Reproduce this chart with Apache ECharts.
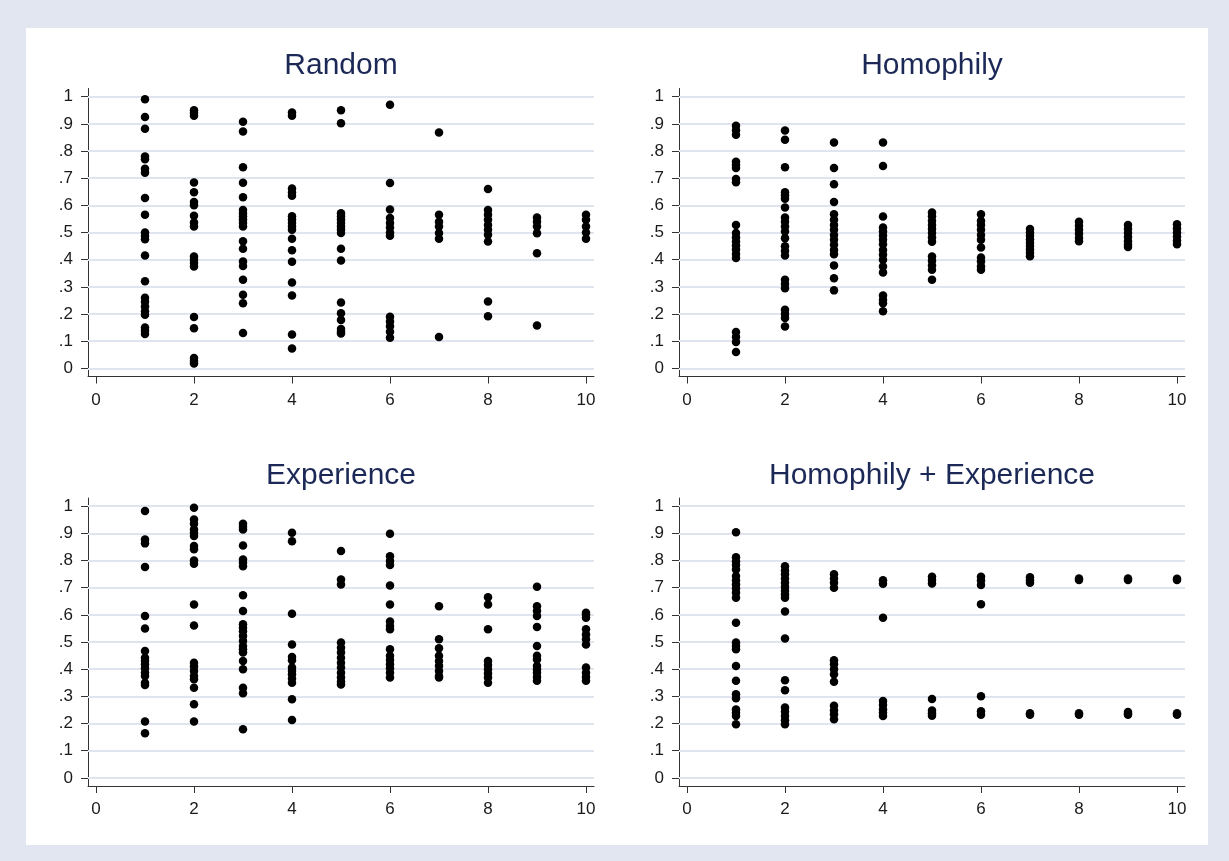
<!DOCTYPE html>
<html>
<head>
<meta charset="utf-8">
<title>Random / Homophily / Experience</title>
<script src="https://cdn.jsdelivr.net/npm/echarts@6/dist/echarts.min.js"></script>
<style>
  html, body { margin: 0; padding: 0; background: #e1e6f0; }
  #chart { width: 1229px; height: 861px; }
</style>
</head>
<body>
<div id="chart"></div>
<script>
// panel titles, in reading order
var panelTitles = ['Random', 'Homophily', 'Experience', 'Homophily + Experience'];

// axis ticks
var xTicks = [0, 2, 4, 6, 8, 10];
var yTicks = [0, 0.1, 0.2, 0.3, 0.4, 0.5, 0.6, 0.7, 0.8, 0.9, 1];
var yTickLabels = ['0', '.1', '.2', '.3', '.4', '.5', '.6', '.7', '.8', '.9', '1'];

// values, one list per x = 1..10
var randomVals = [
  [0.99, 0.925, 0.882, 0.78, 0.77, 0.735, 0.72, 0.627, 0.565, 0.5, 0.487, 0.475, 0.415, 0.321, 0.26, 0.245, 0.228, 0.21, 0.197, 0.15, 0.138, 0.126],
  [0.95, 0.94, 0.93, 0.684, 0.648, 0.612, 0.6, 0.562, 0.537, 0.522, 0.412, 0.4, 0.388, 0.375, 0.189, 0.148, 0.038, 0.027, 0.018],
  [0.908, 0.872, 0.74, 0.683, 0.63, 0.583, 0.571, 0.56, 0.548, 0.535, 0.522, 0.468, 0.44, 0.393, 0.377, 0.326, 0.271, 0.24, 0.13],
  [0.942, 0.93, 0.662, 0.647, 0.635, 0.56, 0.548, 0.535, 0.522, 0.51, 0.477, 0.435, 0.392, 0.316, 0.268, 0.125, 0.073],
  [0.95, 0.902, 0.571, 0.56, 0.548, 0.535, 0.522, 0.51, 0.498, 0.44, 0.397, 0.242, 0.203, 0.178, 0.145, 0.135, 0.128],
  [0.97, 0.682, 0.585, 0.553, 0.535, 0.518, 0.5, 0.488, 0.19, 0.172, 0.155, 0.135, 0.113],
  [0.868, 0.565, 0.54, 0.522, 0.498, 0.477, 0.115],
  [0.66, 0.583, 0.565, 0.547, 0.528, 0.51, 0.492, 0.467, 0.246, 0.192],
  [0.555, 0.54, 0.522, 0.497, 0.424, 0.158],
  [0.565, 0.547, 0.522, 0.5, 0.477]
];

var homophilyVals = [
  [0.893, 0.876, 0.86, 0.76, 0.748, 0.737, 0.697, 0.685, 0.528, 0.498, 0.482, 0.467, 0.452, 0.437, 0.421, 0.406, 0.134, 0.115, 0.097, 0.06],
  [0.875, 0.841, 0.74, 0.648, 0.636, 0.624, 0.592, 0.555, 0.54, 0.522, 0.504, 0.479, 0.449, 0.432, 0.415, 0.326, 0.31, 0.295, 0.216, 0.2, 0.185, 0.154],
  [0.831, 0.737, 0.678, 0.612, 0.567, 0.547, 0.528, 0.51, 0.491, 0.473, 0.455, 0.436, 0.42, 0.379, 0.332, 0.287],
  [0.831, 0.745, 0.559, 0.518, 0.504, 0.489, 0.473, 0.457, 0.436, 0.418, 0.4, 0.375, 0.353, 0.268, 0.252, 0.24, 0.21],
  [0.574, 0.56, 0.543, 0.528, 0.513, 0.498, 0.482, 0.466, 0.412, 0.396, 0.379, 0.363, 0.326],
  [0.567, 0.543, 0.528, 0.51, 0.491, 0.473, 0.445, 0.408, 0.393, 0.375, 0.363],
  [0.513, 0.5, 0.488, 0.475, 0.462, 0.45, 0.437, 0.425, 0.413],
  [0.54, 0.525, 0.51, 0.495, 0.48, 0.468],
  [0.528, 0.513, 0.498, 0.483, 0.468, 0.455, 0.447],
  [0.53, 0.515, 0.5, 0.485, 0.47, 0.457]
];

var experienceVals = [
  [0.982, 0.877, 0.863, 0.776, 0.596, 0.55, 0.467, 0.442, 0.43, 0.418, 0.403, 0.388, 0.375, 0.35, 0.342, 0.207, 0.164],
  [0.994, 0.951, 0.935, 0.914, 0.902, 0.89, 0.853, 0.841, 0.8, 0.788, 0.638, 0.561, 0.424, 0.41, 0.393, 0.375, 0.363, 0.332, 0.271, 0.207],
  [0.935, 0.924, 0.914, 0.855, 0.804, 0.792, 0.779, 0.672, 0.614, 0.565, 0.552, 0.54, 0.522, 0.504, 0.485, 0.473, 0.461, 0.43, 0.4, 0.332, 0.311, 0.179],
  [0.902, 0.871, 0.604, 0.491, 0.445, 0.433, 0.406, 0.393, 0.381, 0.366, 0.35, 0.289, 0.213],
  [0.835, 0.73, 0.712, 0.498, 0.479, 0.461, 0.442, 0.424, 0.406, 0.387, 0.369, 0.354, 0.344],
  [0.898, 0.816, 0.798, 0.783, 0.708, 0.638, 0.575, 0.559, 0.547, 0.473, 0.449, 0.434, 0.418, 0.403, 0.387, 0.369],
  [0.632, 0.51, 0.477, 0.449, 0.43, 0.412, 0.393, 0.375, 0.369],
  [0.665, 0.638, 0.547, 0.43, 0.415, 0.4, 0.384, 0.369, 0.35],
  [0.703, 0.632, 0.614, 0.596, 0.555, 0.485, 0.449, 0.436, 0.412, 0.4, 0.387, 0.371, 0.357],
  [0.608, 0.6, 0.589, 0.547, 0.528, 0.51, 0.491, 0.406, 0.387, 0.371, 0.357]
];

var homExpVals = [
  [0.904, 0.812, 0.797, 0.783, 0.767, 0.743, 0.727, 0.712, 0.697, 0.681, 0.663, 0.571, 0.498, 0.485, 0.473, 0.412, 0.357, 0.308, 0.293, 0.252, 0.24, 0.228, 0.197],
  [0.779, 0.763, 0.749, 0.734, 0.718, 0.702, 0.688, 0.675, 0.663, 0.612, 0.513, 0.359, 0.322, 0.259, 0.244, 0.228, 0.212, 0.197],
  [0.749, 0.734, 0.718, 0.7, 0.433, 0.418, 0.4, 0.381, 0.354, 0.265, 0.249, 0.234, 0.216],
  [0.727, 0.714, 0.589, 0.283, 0.268, 0.252, 0.24, 0.228],
  [0.74, 0.728, 0.715, 0.29, 0.248, 0.238, 0.229],
  [0.74, 0.726, 0.71, 0.639, 0.3, 0.245, 0.232],
  [0.738, 0.727, 0.718, 0.238, 0.232],
  [0.734, 0.728, 0.238, 0.232],
  [0.734, 0.728, 0.242, 0.236, 0.232],
  [0.733, 0.728, 0.238, 0.232]
];

var panelVals = [randomVals, homophilyVals, experienceVals, homExpVals];

// layout of the four plot regions (px)
var gridPos = [
  {left: 88, top: 88.5},
  {left: 679, top: 88.5},
  {left: 88, top: 498},
  {left: 679, top: 498}
];
var titleTop = [51, 51, 460.5, 460.5];
var gridW = 506, gridH = 288;

var font = 'Arial, "Liberation Sans", Helvetica, sans-serif';
var axisColor = '#333';
var gridColor = '#dfe4ee';

function toPoints(cols) {
  var pts = [];
  cols.forEach(function (vals, i) {
    vals.forEach(function (v) { pts.push([i + 1, v]); });
  });
  return pts;
}

function yLabel(v) {
  return yTickLabels[Math.round(v * 10)];
}

var grids = [], xAxes = [], yAxes = [], series = [], titles = [];

gridPos.forEach(function (g, k) {
  grids.push({left: g.left, top: g.top, width: gridW, height: gridH});

  titles.push({
    text: panelTitles[k],
    left: g.left + gridW / 2,
    top: titleTop[k],
    textAlign: 'center',
    padding: 0,
    textStyle: {
      fontFamily: font, fontSize: 30, fontWeight: 'normal',
      color: '#1c2957', lineHeight: 30
    }
  });

  xAxes.push({
    type: 'value', gridIndex: k,
    min: -8 / 49, max: 10 + 8 / 49,
    axisLine: {show: true, onZero: false, lineStyle: {color: axisColor, width: 1}},
    axisTick: {show: true, customValues: xTicks, length: 7, lineStyle: {color: axisColor}},
    axisLabel: {
      customValues: xTicks, margin: 15,
      fontFamily: font, fontSize: 17, color: '#1a1a1a'
    },
    splitLine: {show: false}
  });

  yAxes.push({
    type: 'value', gridIndex: k,
    min: -0.03, max: 1.03,
    axisLine: {show: true, onZero: false, lineStyle: {color: axisColor, width: 1}},
    axisTick: {show: true, customValues: yTicks, length: 7, lineStyle: {color: axisColor}},
    axisLabel: {
      customValues: yTicks, margin: 15,
      fontFamily: font, fontSize: 17, color: '#1a1a1a',
      formatter: yLabel
    },
    splitLine: {show: false}
  });

  series.push({
    type: 'scatter',
    xAxisIndex: k, yAxisIndex: k,
    symbol: 'circle', symbolSize: 8.5,
    itemStyle: {color: '#000', opacity: 1},
    data: toPoints(panelVals[k]),
    markLine: {
      silent: true, symbol: 'none', z: 1,
      label: {show: false},
      lineStyle: {color: gridColor, width: 2, type: 'solid'},
      data: yTicks.map(function (v) { return {yAxis: v}; })
    }
  });
});

var myChart = echarts.init(document.getElementById('chart'));
myChart.setOption({
  animation: false,
  backgroundColor: '#e1e6f0',
  graphic: [{
    type: 'rect', z: -10,
    shape: {x: 26, y: 28, width: 1182, height: 817},
    style: {fill: '#fff'}
  }],
  title: titles,
  grid: grids,
  xAxis: xAxes,
  yAxis: yAxes,
  series: series
});
</script>
</body>
</html>
